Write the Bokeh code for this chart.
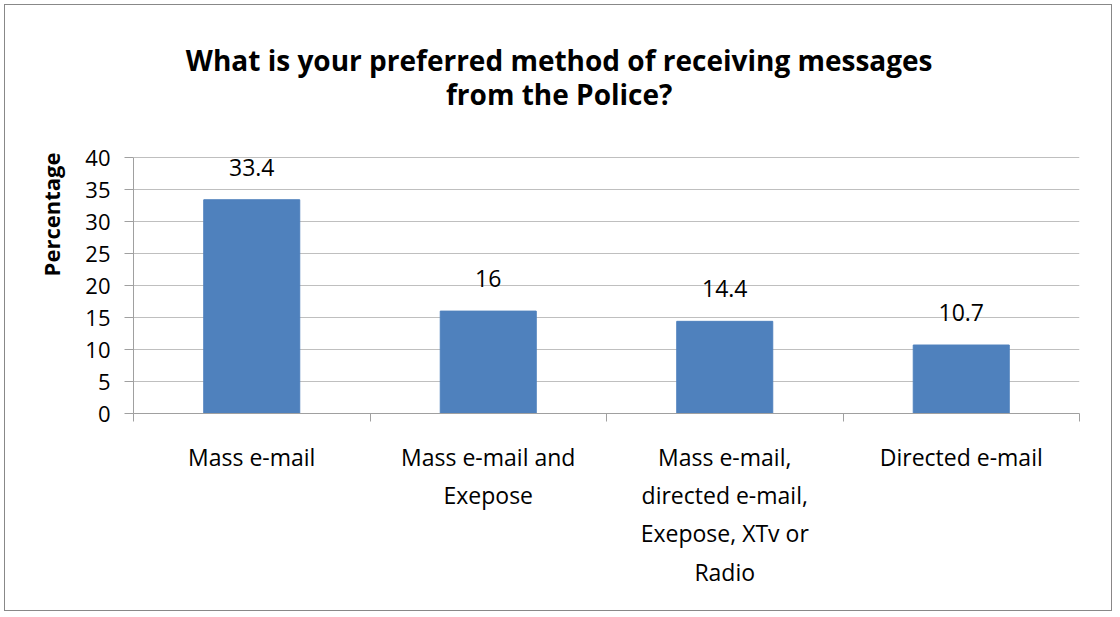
from bokeh.plotting import figure
from bokeh.models import LinearAxis, FixedTicker, LabelSet, ColumnDataSource, Label, Range1d
from bokeh.core.properties import value
from bokeh.embed import file_html
from bokeh.resources import INLINE

categories = [
    "Mass e-mail",
    "Mass e-mail and\nExepose",
    "Mass e-mail,\ndirected e-mail,\nExepose, XTv or\nRadio",
    "Directed e-mail",
]
values = [33.4, 16, 14.4, 10.7]
value_labels = ["33.4", "16", "14.4", "10.7"]
y_ticks = [0, 5, 10, 15, 20, 25, 30, 35, 40]
title_lines = ["What is your preferred method of receiving messages", "from the Police?"]
y_title = "Percentage"

FONT = "Open Sans"
BAR = "#4F81BD"
AXIS = "#A0A0A0"
GRID = "#BFBFBF"

src = ColumnDataSource(dict(cat=categories, val=values, lbl=value_labels))

# the plot area extends above the 0-40 scale so that the title can sit inside it
Y_MAX = 40
Y_VIEW_END = 62.19

p = figure(x_range=categories, y_range=Range1d(0, Y_VIEW_END), width=1108, height=607,
           output_backend="svg", toolbar_location=None, title_location=None,
           x_axis_location=None,
           min_border_left=128, min_border_top=10, min_border_right=34, min_border_bottom=199)
p.margin = (4, 0, 0, 4)
p.outline_line_color = None
p.styles = {"border": "1px solid #888888"}

p.vbar(x="cat", top="val", width=0.406, source=src, fill_color=BAR, line_color=BAR)

labels = LabelSet(x="cat", y="val", text="lbl", source=src, text_align="center",
                  text_baseline="alphabetic", y_offset=24, text_font_size="23px",
                  text_font=value(FONT), text_color="#000000")
p.add_layout(labels)

# grid / y axis
p.xgrid.visible = False
p.ygrid.grid_line_color = GRID
p.yaxis.ticker = FixedTicker(ticks=y_ticks)
p.yaxis.bounds = (0, Y_MAX)
p.yaxis.axis_line_color = AXIS
p.yaxis.major_tick_line_color = AXIS
p.yaxis.major_tick_out = 9
p.yaxis.major_tick_in = 0
p.yaxis.minor_tick_line_color = None
p.yaxis.major_label_text_font = FONT
p.yaxis.major_label_text_font_size = "22px"
p.yaxis.major_label_text_color = "#000000"
p.yaxis.major_label_standoff = 14
p.yaxis.axis_label = y_title
p.yaxis.axis_label_text_font = FONT
p.yaxis.axis_label_text_font_size = "22px"
p.yaxis.axis_label_text_font_style = "bold"
p.yaxis.axis_label_text_color = "#000000"
p.yaxis.axis_label_standoff = 16

# x axis: labels at category centres, boundary ticks between categories
n = len(categories)
centres = [i + 0.5 for i in range(n)]
x_axis = LinearAxis(
    ticker=FixedTicker(ticks=centres, minor_ticks=list(range(n + 1))),
    major_label_overrides={c: cat for c, cat in zip(centres, categories)},
    major_tick_out=0, major_tick_in=0, major_tick_line_color=None,
    minor_tick_out=8, minor_tick_in=0, minor_tick_line_color=AXIS,
    axis_line_color=AXIS,
    major_label_text_font=FONT, major_label_text_font_size="23px",
    major_label_text_color="#000000", major_label_text_line_height=1.2,
    major_label_standoff=19,
)
p.add_layout(x_axis, "below")

# two-line title, centred on the whole chart
title_y = [55.16, 50.0]
for line, ty in zip(title_lines, title_y):
    p.add_layout(Label(x=1.8, y=ty, text=line, text_align="center",
                       text_baseline="alphabetic", text_font=FONT,
                       text_font_size="28px", text_font_style="bold",
                       text_color="#000000"))

open("out.html", "w").write(file_html(p, INLINE))
